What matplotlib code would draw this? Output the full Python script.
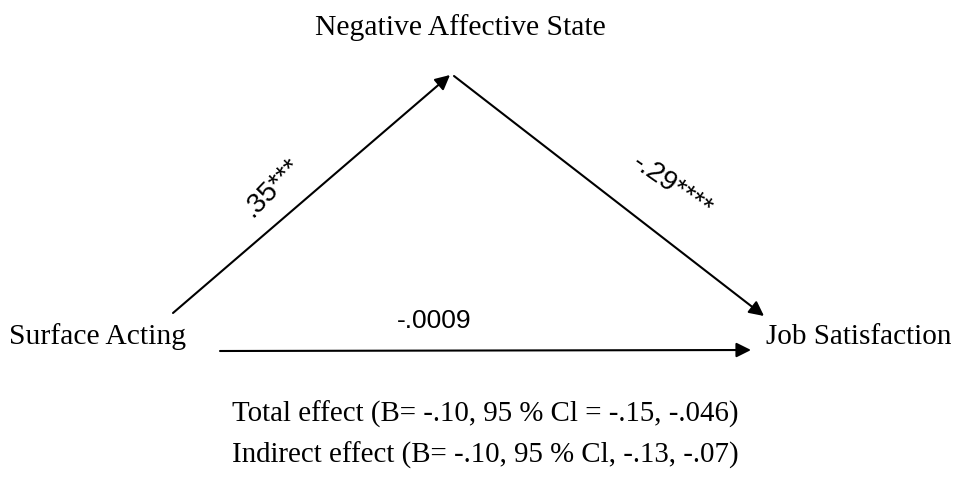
import matplotlib
matplotlib.use("Agg")
import matplotlib.pyplot as plt

# Mediation model: Surface Acting -> Negative Affective State -> Job Satisfaction
node_names = ["Surface Acting", "Negative Affective State", "Job Satisfaction"]
path_a = ".35***"
path_b = "-.29****"
path_c = "-.0009"
effect_lines = [
    "Total effect (B= -.10, 95 % Cl = -.15, -.046)",
    "Indirect effect (B= -.10, 95 % Cl, -.13, -.07)",
]

W, H = 957, 491
fig = plt.figure(figsize=(W / 100, H / 100), dpi=100)
ax = fig.add_axes([0, 0, 1, 1])
ax.set_xlim(0, W)
ax.set_ylim(H, 0)
ax.axis("off")

serif = ["Liberation Serif", "DejaVu Serif"]
sans = ["Liberation Sans", "DejaVu Sans"]

# node labels
ax.text(460, 28, node_names[1], family=serif, fontsize=21.3, ha="center", va="center")
ax.text(9, 337, node_names[0], family=serif, fontsize=21.3, ha="left", va="center")
ax.text(766, 337, node_names[2], family=serif, fontsize=21, ha="left", va="center")

arrow_kw = dict(arrowstyle="-|>", color="black", lw=1.5, mutation_scale=22,
                shrinkA=0, shrinkB=0)

# path a
ax.annotate("", xy=(450, 75), xytext=(173, 313), arrowprops=arrow_kw)
ax.text(272, 188, path_a, family=sans, fontsize=20, rotation=46,
        ha="center", va="center", rotation_mode="anchor")

# path b
ax.annotate("", xy=(764, 316), xytext=(454, 76), arrowprops=arrow_kw)
ax.text(672, 186, path_b, family=sans, fontsize=20, rotation=-35,
        ha="center", va="center", rotation_mode="anchor")

# direct path c'
ax.annotate("", xy=(751, 350), xytext=(220, 351), arrowprops=arrow_kw)
ax.text(434, 321, path_c, family=sans, fontsize=19, ha="center", va="center")

# effect summaries
ax.text(232, 414, effect_lines[0], family=serif, fontsize=20.8, ha="left", va="center")
ax.text(232, 455, effect_lines[1], family=serif, fontsize=20.8, ha="left", va="center")

fig.savefig("out.png", dpi=100, facecolor="white")
